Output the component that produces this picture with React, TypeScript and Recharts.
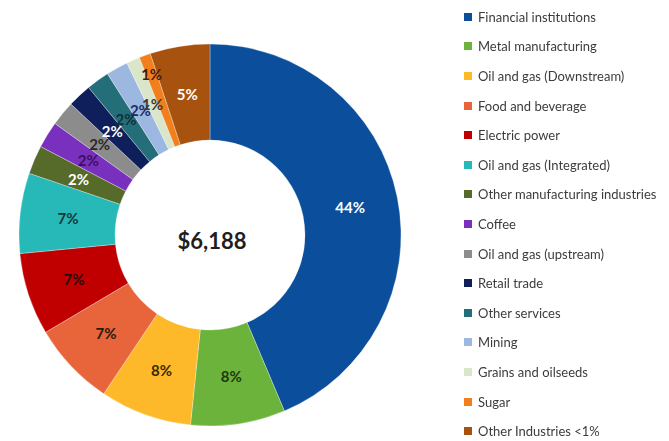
import { PieChart, Pie, Cell, Legend } from "recharts";

const industries = [
  "Financial institutions",
  "Metal manufacturing",
  "Oil and gas (Downstream)",
  "Food and beverage",
  "Electric power",
  "Oil and gas (Integrated)",
  "Other manufacturing industries",
  "Coffee",
  "Oil and gas (upstream)",
  "Retail trade",
  "Other services",
  "Mining",
  "Grains and oilseeds",
  "Sugar",
  "Other Industries <1%",
];

// $ amounts, total 6,188
const amounts = [2700, 495, 480, 440, 430, 420, 150, 140, 130, 125, 120, 115, 70, 60, 313];

const colors = [
  "#0b4f9c",
  "#6cb33c",
  "#fdb92a",
  "#e8643b",
  "#c00000",
  "#27b8b8",
  "#566b2a",
  "#7a30be",
  "#8c8c8c",
  "#0e1f5c",
  "#246e7a",
  "#9db8e0",
  "#dae6c9",
  "#f07f1c",
  "#a8520f",
];

const labelColors = [
  "#ffffff",
  "#1f3a0e",
  "#3a2a00",
  "#2a1a10",
  "#2a0a0a",
  "#123838",
  "#ffffff",
  "#3a1060",
  "#2a2a2a",
  "#ffffff",
  "#10303a",
  "#1b2e6e",
  "#3a3a3a",
  "#4a1a0a",
  "#ffffff",
];

const total = amounts.reduce((a, b) => a + b, 0);

const data = industries.map((name, i) => ({ name, value: amounts[i] }));

const RAD = Math.PI / 180;

interface LabelProps {
  cx: number;
  cy: number;
  midAngle: number;
  innerRadius: number;
  outerRadius: number;
  value: number;
  index: number;
}

const SliceLabel = ({ cx, cy, midAngle, innerRadius, outerRadius, value, index }: LabelProps) => {
  const share = value / total;
  // slivers under 1% get pushed toward the outer rim, like the original
  const r = share < 0.01 ? outerRadius - 20 : (innerRadius + outerRadius) / 2;
  const x = cx + r * Math.cos(-midAngle * RAD);
  const y = cy + r * Math.sin(-midAngle * RAD);
  return (
    <text
      x={x}
      y={y}
      fill={labelColors[index]}
      textAnchor="middle"
      dominantBaseline="central"
      fontFamily="Lato, sans-serif"
      fontSize={15}
      fontWeight="bold"
    >
      {`${Math.round(share * 100)}%`}
    </text>
  );
};

const LegendList = () => (
  <div style={{ fontFamily: "Lato, sans-serif", fontSize: 13, color: "#3c3c3c" }}>
    {industries.map((name, i) => (
      <div key={name} style={{ height: 29.6, display: "flex", alignItems: "center" }}>
        <span
          style={{
            display: "inline-block",
            width: 8,
            height: 8,
            background: colors[i],
            marginRight: 6,
          }}
        />
        {name}
      </div>
    ))}
  </div>
);

export default function App() {
  return (
    <div style={{ position: "fixed", left: 0, top: 0, width: 669, height: 441, background: "#fff" }}>
      <PieChart width={669} height={441} margin={{ top: 0, right: 0, bottom: 0, left: 0 }}>
        <Pie
          data={data}
          dataKey="value"
          nameKey="name"
          cx={210}
          cy={235}
          innerRadius={95}
          outerRadius={191}
          startAngle={90}
          endAngle={-270}
          stroke="#ffffff"
          strokeWidth={0.3}
          label={SliceLabel}
          labelLine={false}
          isAnimationActive={false}
        >
          {data.map((d, i) => (
            <Cell key={d.name} fill={colors[i]} />
          ))}
        </Pie>
        <text
          x={212}
          y={240}
          textAnchor="middle"
          dominantBaseline="central"
          fontFamily="Lato, sans-serif"
          fontSize={22}
          fontWeight="bold"
          fill="#1e1e1e"
        >
          $6,188
        </text>
        <Legend
          layout="vertical"
          verticalAlign="top"
          align="right"
          wrapperStyle={{ left: 464, top: 2, width: 205 }}
          content={<LegendList />}
        />
      </PieChart>
    </div>
  );
}
